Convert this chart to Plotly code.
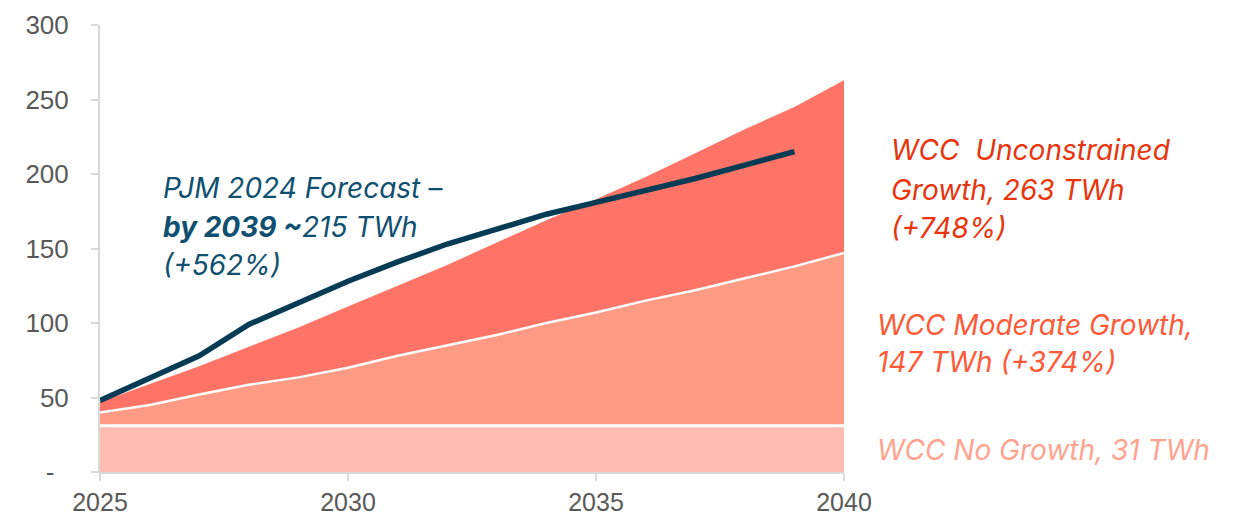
import plotly.graph_objects as go

# Annual electricity demand scenarios, TWh
years = list(range(2025, 2041))
no_growth = [31] * 16
moderate = [40, 45, 52, 58.5, 63.5, 70, 78, 85, 92, 100, 107, 115, 122, 130, 138, 147]
unconstrained = [47, 59, 71, 84, 97, 111, 125, 139, 154, 169, 183, 198, 214, 230, 245, 263]

pjm_years = list(range(2025, 2040))
pjm_forecast = [48, 63, 78, 99, 114, 128, 141, 153, 163, 173, 181, 189, 197, 206, 215]

y_ticks = [0, 50, 100, 150, 200, 250, 300]
y_tick_text = ["-\u00a0\u00a0", "50", "100", "150", "200", "250", "300"]
x_ticks = [2025, 2030, 2035, 2040]

C_NO = "#fdbdb0"
C_MOD = "#ff9b85"
C_UNC = "#ff7466"
C_PJM = "#063b55"
FONT = "Inter"

# plot area geometry (pixels)
W, H = 1244, 519
L, R, T, B = 100, 400, 25, 46.5
PW, PH = W - L - R, H - T - B

fig = go.Figure()

fig.add_trace(go.Scatter(x=years, y=no_growth, mode="lines", fill="tozeroy",
                         fillcolor=C_NO, line=dict(width=0), hoverinfo="skip"))
fig.add_trace(go.Scatter(x=years, y=moderate, mode="lines", fill="tonexty",
                         fillcolor=C_MOD, line=dict(width=0), hoverinfo="skip"))
fig.add_trace(go.Scatter(x=years, y=unconstrained, mode="lines", fill="tonexty",
                         fillcolor=C_UNC, line=dict(width=0), hoverinfo="skip"))

# white separators between the stacked bands
fig.add_trace(go.Scatter(x=years, y=no_growth, mode="lines",
                         line=dict(color="white", width=3), hoverinfo="skip"))
fig.add_trace(go.Scatter(x=years, y=moderate, mode="lines",
                         line=dict(color="white", width=2.5), hoverinfo="skip"))

fig.add_trace(go.Scatter(x=pjm_years, y=pjm_forecast, mode="lines",
                         line=dict(color=C_PJM, width=5.5), hoverinfo="skip"))


def label(px, py, text, color):
    """Place a left-aligned italic text line whose left edge / middle sit at pixel (px, py)."""
    fig.add_annotation(x=(px - L) / PW, y=(H - B - py) / PH, xref="paper", yref="paper",
                       text=text, showarrow=False, xanchor="left", yanchor="middle",
                       font=dict(family=FONT, size=28, color=color, style="italic"))


C_PJM_TXT = "#0f5070"
label(161, 188, "PJM 2024 Forecast \u2013", C_PJM_TXT)
label(161, 227, "<b>by 2039 ~</b>215 TWh", C_PJM_TXT)
label(161, 265, "(+562%)", C_PJM_TXT)

C_UNC_TXT = "#e8350e"
label(889, 150, "WCC\u00a0\u00a0Unconstrained", C_UNC_TXT)
label(889, 190, "Growth, 263 TWh", C_UNC_TXT)
label(889, 228, "(+748%)", C_UNC_TXT)

C_MOD_TXT = "#ff5a38"
label(875, 325, "WCC Moderate Growth,", C_MOD_TXT)
label(875, 362, "147 TWh (+374%)", C_MOD_TXT)

C_NO_TXT = "#ffa38f"
label(875, 450, "WCC No Growth, 31 TWh", C_NO_TXT)

axis_font = dict(family="Liberation Sans, Arial", size=26, color="#595959")
fig.update_xaxes(range=[2025, 2040], tickvals=x_ticks, ticktext=[str(v) for v in x_ticks],
                 showgrid=False, zeroline=False, showline=True, linecolor="#d9d9d9",
                 linewidth=2, ticks="outside", ticklen=7, tickwidth=2, tickcolor="#d9d9d9",
                 tickfont=dict(axis_font, size=25), ticklabelstandoff=0, automargin=False)
fig.update_yaxes(range=[0, 300], tickvals=y_ticks, ticktext=y_tick_text,
                 showgrid=False, zeroline=False, showline=True, linecolor="#d9d9d9",
                 linewidth=2, ticks="outside", ticklen=7, tickwidth=2, tickcolor="#d9d9d9",
                 tickfont=axis_font, ticklabelstandoff=17, automargin=False)

fig.update_layout(width=W, height=H, showlegend=False,
                  margin=dict(l=L, r=R, t=T, b=B, autoexpand=False),
                  plot_bgcolor="white", paper_bgcolor="white")

fig.write_html("out.html")
